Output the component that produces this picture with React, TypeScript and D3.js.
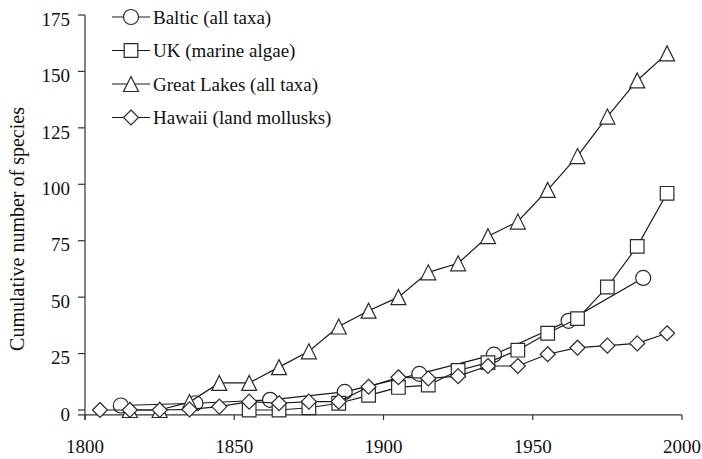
import React from "react";
import * as d3 from "d3";

// values
const balticYears = [1812, 1837, 1862, 1887, 1912, 1937, 1962, 1987];
const balticValues = [2, 3, 4.5, 8, 16, 24.5, 39.5, 58.5];

const ukYears = [1855, 1865, 1875, 1885, 1895, 1905, 1915, 1925, 1935, 1945, 1955, 1965, 1975, 1985, 1995];
const ukValues = [0, 0, 1, 3, 6.5, 10, 11, 17.5, 21, 26.5, 34, 40.5, 54.5, 72.5, 96];

const lakesYears = [1815, 1825, 1835, 1845, 1855, 1865, 1875, 1885, 1895, 1905, 1915, 1925, 1935, 1945, 1955, 1965, 1975, 1985, 1995];
const lakesValues = [0, 0, 3.5, 12, 12, 19, 26, 37, 44, 50, 61, 65, 77, 83.5, 97.5, 112.5, 130, 146, 158];

const hawaiiYears = [1805, 1815, 1825, 1835, 1845, 1855, 1865, 1875, 1885, 1895, 1905, 1915, 1925, 1935, 1945, 1955, 1965, 1975, 1985, 1995];
const hawaiiValues = [0, 0, 0, 0.3, 1.5, 3.7, 3, 3.7, 3.7, 10.3, 14.5, 14, 15, 19.5, 19.5, 24.7, 27.6, 28.5, 29.5, 34];

const xTicks = [1800, 1850, 1900, 1950, 2000];
const yTicks = [0, 25, 50, 75, 100, 125, 150, 175];

const seriesNames = ["Baltic (all taxa)", "UK (marine algae)", "Great Lakes (all taxa)", "Hawaii (land mollusks)"];
const seriesShapes = ["circle", "square", "triangle", "diamond"];

const W = 702;
const H = 459;
const font = "Liberation Serif";

const x = d3.scaleLinear().domain([1800, 2000]).range([85, 682]);
const y = d3.scaleLinear().domain([0, 175]).range([410, 15]);
const axisY = y(-2.2);

function markerPath(shape: string, r: number) {
  if (shape === "circle") return d3.symbol(d3.symbolCircle, Math.PI * r * r)() as string;
  if (shape === "square") return `M${-r},${-r}H${r}V${r}H${-r}Z`;
  if (shape === "triangle") return `M0,${-r}L${r},${r}H${-r}Z`;
  return `M0,${-r}L${r},0L0,${r}L${-r},0Z`;
}

function Series({ years, values, shape }: { years: number[]; values: number[]; shape: string }) {
  const pts = years.map((yr, i) => [x(yr), y(values[i])] as [number, number]);
  const line = d3.line()(pts) as string;
  const r = shape === "square" ? 6.8 : 7.5;
  return (
    <g>
      <path d={line} fill="none" stroke="#1a1a1a" strokeWidth={1.2} />
      {pts.map((p, i) => (
        <path key={i} d={markerPath(shape, r)} transform={`translate(${p[0]},${p[1]})`}
          fill="#fff" stroke="#2a2a2a" strokeWidth={1.2} />
      ))}
    </g>
  );
}

export default function App() {
  const seriesData = [
    [balticYears, balticValues],
    [ukYears, ukValues],
    [lakesYears, lakesValues],
    [hawaiiYears, hawaiiValues],
  ];
  return (
    <div style={{ position: "fixed", left: 0, top: 0, background: "#fff" }}>
      <svg width={W} height={H} style={{ display: "block", fontFamily: font }}>
        <rect width={W} height={H} fill="#fff" />
        {/* y axis */}
        <line x1={x(1800)} x2={x(1800)} y1={y(175)} y2={axisY + 5} stroke="#333" strokeWidth={1.2} />
        {yTicks.map((t) => (
          <g key={t}>
            <line x1={x(1800) - 7} x2={x(1800)} y1={y(t)} y2={y(t)} stroke="#333" strokeWidth={1.2} />
            <text x={70} y={y(t) + 4} dy="0.35em" textAnchor="end" fontSize={19} fill="#111" style={{ fontFamily: font }}>{t}</text>
          </g>
        ))}
        {/* x axis */}
        <line x1={x(1800) - 7} x2={x(2000)} y1={axisY} y2={axisY} stroke="#333" strokeWidth={1.2} />
        {xTicks.map((t) => (
          <g key={t}>
            <line x1={x(t)} x2={x(t)} y1={axisY} y2={axisY + 5} stroke="#333" strokeWidth={1.2} />
            <text x={x(t)} y={453} textAnchor="middle" fontSize={19} fill="#111" style={{ fontFamily: font }}>{t}</text>
          </g>
        ))}
        <text transform={`translate(24,229) rotate(-90)`} textAnchor="middle" fontSize={20} fill="#111" style={{ fontFamily: font }}>
          Cumulative number of species
        </text>
        {seriesData.map((s, i) => (
          <Series key={i} years={s[0]} values={s[1]} shape={seriesShapes[i]} />
        ))}
        {/* legend */}
        {seriesNames.map((name, i) => {
          const ly = 17 + i * 33.5;
          const r = seriesShapes[i] === "square" ? 6.8 : 7.5;
          return (
            <g key={name}>
              <line x1={112} x2={150} y1={ly} y2={ly} stroke="#1a1a1a" strokeWidth={1.2} />
              <path d={markerPath(seriesShapes[i], r)} transform={`translate(131,${ly})`} fill="#fff" stroke="#2a2a2a" strokeWidth={1.2} />
              <text x={153} y={ly} dy="0.35em" fontSize={19} fill="#111" style={{ fontFamily: font }}>{name}</text>
            </g>
          );
        })}
      </svg>
    </div>
  );
}
